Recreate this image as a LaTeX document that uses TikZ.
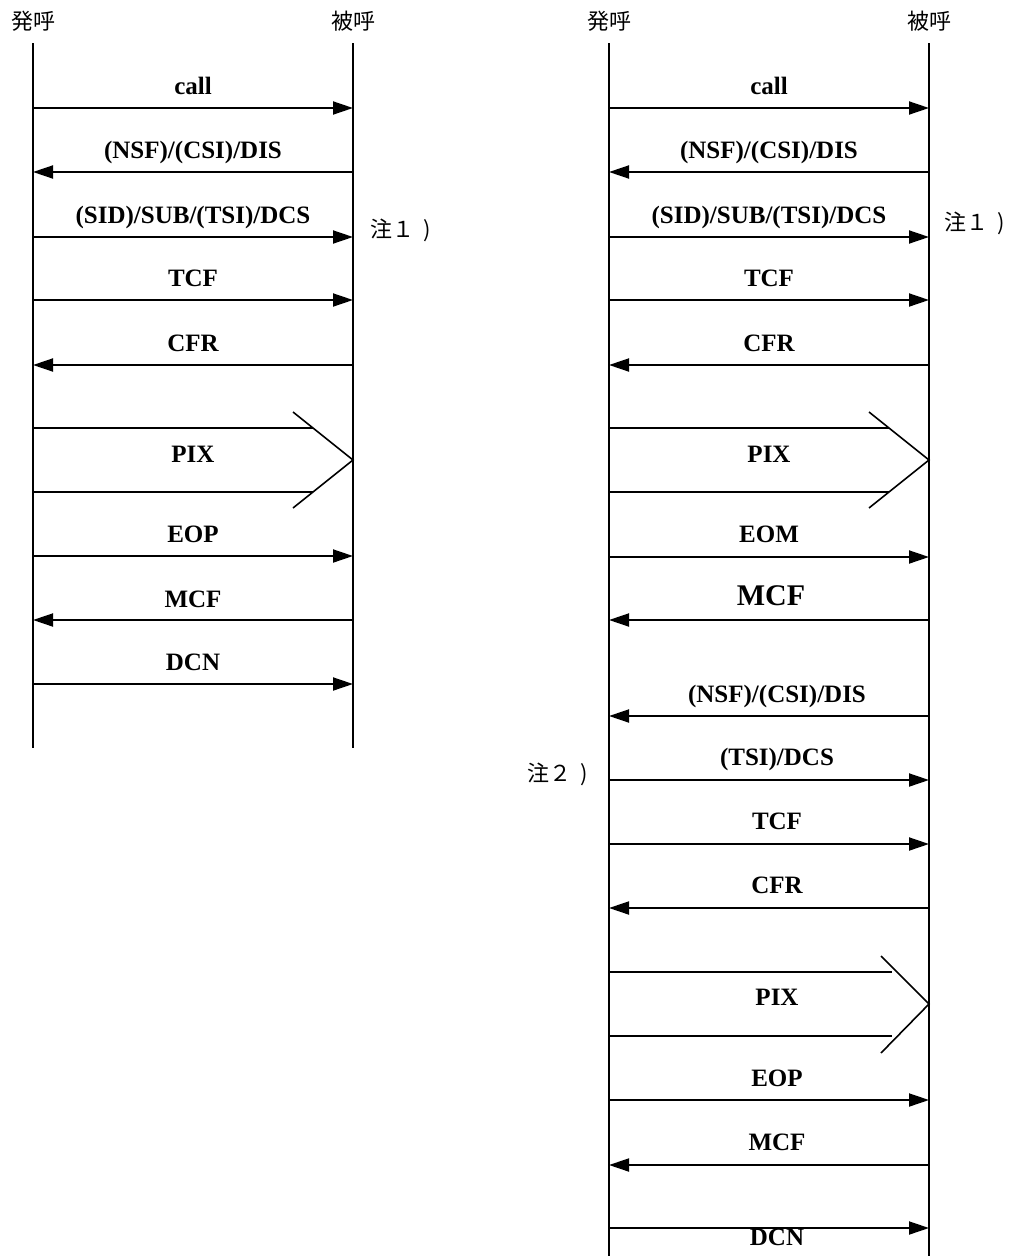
\documentclass[tikz,border=0pt]{standalone}
\usepackage{fontspec}
\setmainfont{Liberation Serif}
\newfontfamily\jpfont{Noto Sans CJK JP}
\usetikzlibrary{arrows.meta}
\begin{document}
\begin{tikzpicture}[x=1pt,y=-1pt,
 life/.style={line width=1.9pt},
 msg/.style={line width=1.9pt},
 fwd/.style={msg,-{Triangle[length=20pt,width=13pt]}},
 bwd/.style={msg,{Triangle[length=20pt,width=13pt]}-},
 lbl/.style={font=\bfseries\fontsize{25}{30}\selectfont,anchor=base,inner sep=0pt},
 biglbl/.style={font=\bfseries\fontsize{30}{36}\selectfont,anchor=base,inner sep=0pt},
 hdr/.style={font=\jpfont\fontsize{22}{26}\selectfont,anchor=base,inner sep=0pt},
 note/.style={font=\jpfont\fontsize{22}{26}\selectfont,anchor=base west,inner sep=0pt},
 chev/.style={line width=1.6pt}]
\useasboundingbox (0,0) rectangle (1012,1256);

% ---------- left diagram ----------
\node[hdr] (hA) at (33,29) {発呼};
\node[hdr] (hB) at (353,29) {被呼};
\coordinate (At) at (33,43); \coordinate (Ab) at (33,748);
\coordinate (Bt) at (353,43); \coordinate (Bb) at (353,748);
\draw[life] (At) -- (Ab);
\draw[life] (Bt) -- (Bb);

\coordinate (a1) at (33,108); \coordinate (b1) at (353,108);
\draw[fwd] (a1) -- (b1); \node[lbl] (t1) at (193,94) {call};
\coordinate (a2) at (33,172); \coordinate (b2) at (353,172);
\draw[bwd] (a2) -- (b2); \node[lbl] (t2) at (193,158) {(NSF)/(CSI)/DIS};
\coordinate (a3) at (33,237); \coordinate (b3) at (353,237);
\draw[fwd] (a3) -- (b3); \node[lbl] (t3) at (193,223) {(SID)/SUB/(TSI)/DCS};
\node[note] (n1) at (370,237) {注１\hspace{9pt})};
\coordinate (a4) at (33,300); \coordinate (b4) at (353,300);
\draw[fwd] (a4) -- (b4); \node[lbl] (t4) at (193,286) {TCF};
\coordinate (a5) at (33,365); \coordinate (b5) at (353,365);
\draw[bwd] (a5) -- (b5); \node[lbl] (t5) at (193,351) {CFR};
% PIX
\coordinate (p1u) at (33,428); \coordinate (q1u) at (313,428);
\coordinate (p1d) at (33,492); \coordinate (q1d) at (313,492);
\coordinate (c1t) at (293,412); \coordinate (c1a) at (353,460); \coordinate (c1b) at (293,508);
\draw[msg] (p1u) -- (q1u);
\draw[msg] (p1d) -- (q1d);
\draw[chev] (c1t) -- (c1a) -- (c1b);
\node[lbl] (t6) at (193,462) {PIX};
\coordinate (a7) at (33,556); \coordinate (b7) at (353,556);
\draw[fwd] (a7) -- (b7); \node[lbl] (t7) at (193,542) {EOP};
\coordinate (a8) at (33,620); \coordinate (b8) at (353,620);
\draw[bwd] (a8) -- (b8); \node[lbl] (t8) at (193,607) {MCF};
\coordinate (a9) at (33,684); \coordinate (b9) at (353,684);
\draw[fwd] (a9) -- (b9); \node[lbl] (t9) at (193,670) {DCN};

% ---------- right diagram ----------
\node[hdr] (hC) at (609,29) {発呼};
\node[hdr] (hD) at (929,29) {被呼};
\coordinate (Ct) at (609,43); \coordinate (Cb) at (609,1256);
\coordinate (Dt) at (929,43); \coordinate (Db) at (929,1256);
\draw[life] (Ct) -- (Cb);
\draw[life] (Dt) -- (Db);

\coordinate (c1) at (609,108); \coordinate (d1) at (929,108);
\draw[fwd] (c1) -- (d1); \node[lbl] (u1) at (769,94) {call};
\coordinate (c2) at (609,172); \coordinate (d2) at (929,172);
\draw[bwd] (c2) -- (d2); \node[lbl] (u2) at (769,158) {(NSF)/(CSI)/DIS};
\coordinate (c3) at (609,237); \coordinate (d3) at (929,237);
\draw[fwd] (c3) -- (d3); \node[lbl] (u3) at (769,223) {(SID)/SUB/(TSI)/DCS};
\node[note] (n2) at (944,230) {注１\hspace{9pt})};
\coordinate (c4) at (609,300); \coordinate (d4) at (929,300);
\draw[fwd] (c4) -- (d4); \node[lbl] (u4) at (769,286) {TCF};
\coordinate (c5) at (609,365); \coordinate (d5) at (929,365);
\draw[bwd] (c5) -- (d5); \node[lbl] (u5) at (769,351) {CFR};
% PIX 1
\coordinate (p2u) at (609,428); \coordinate (q2u) at (889,428);
\coordinate (p2d) at (609,492); \coordinate (q2d) at (889,492);
\coordinate (c2t) at (869,412); \coordinate (c2a) at (929,460); \coordinate (c2b) at (869,508);
\draw[msg] (p2u) -- (q2u);
\draw[msg] (p2d) -- (q2d);
\draw[chev] (c2t) -- (c2a) -- (c2b);
\node[lbl] (u6) at (769,462) {PIX};
\coordinate (c7) at (609,557); \coordinate (d7) at (929,557);
\draw[fwd] (c7) -- (d7); \node[lbl] (u7) at (769,542) {EOM};
\coordinate (c8) at (609,620); \coordinate (d8) at (929,620);
\draw[bwd] (c8) -- (d8); \node[biglbl] (u8) at (771,605) {MCF};
\coordinate (c9) at (609,716); \coordinate (d9) at (929,716);
\draw[bwd] (c9) -- (d9); \node[lbl] (u9) at (777,702) {(NSF)/(CSI)/DIS};
\coordinate (c10) at (609,780); \coordinate (d10) at (929,780);
\draw[fwd] (c10) -- (d10); \node[lbl] (u10) at (777,765) {(TSI)/DCS};
\node[note] (n3) at (527,781) {注２\hspace{9pt})};
\coordinate (c11) at (609,844); \coordinate (d11) at (929,844);
\draw[fwd] (c11) -- (d11); \node[lbl] (u11) at (777,829) {TCF};
\coordinate (c12) at (609,908); \coordinate (d12) at (929,908);
\draw[bwd] (c12) -- (d12); \node[lbl] (u12) at (777,893) {CFR};
% PIX 2
\coordinate (p3u) at (609,972); \coordinate (q3u) at (892,972);
\coordinate (p3d) at (609,1036); \coordinate (q3d) at (892,1036);
\coordinate (c3t) at (881,956); \coordinate (c3a) at (929,1004); \coordinate (c3b) at (881,1053);
\draw[msg] (p3u) -- (q3u);
\draw[msg] (p3d) -- (q3d);
\draw[chev] (c3t) -- (c3a) -- (c3b);
\node[lbl] (u13) at (777,1005) {PIX};
\coordinate (c14) at (609,1100); \coordinate (d14) at (929,1100);
\draw[fwd] (c14) -- (d14); \node[lbl] (u14) at (777,1086) {EOP};
\coordinate (c15) at (609,1165); \coordinate (d15) at (929,1165);
\draw[bwd] (c15) -- (d15); \node[lbl] (u15) at (777,1150) {MCF};
\coordinate (c16) at (609,1228); \coordinate (d16) at (929,1228);
\draw[fwd] (c16) -- (d16); \node[lbl] (u16) at (777,1245) {DCN};
\end{tikzpicture}
\end{document}
